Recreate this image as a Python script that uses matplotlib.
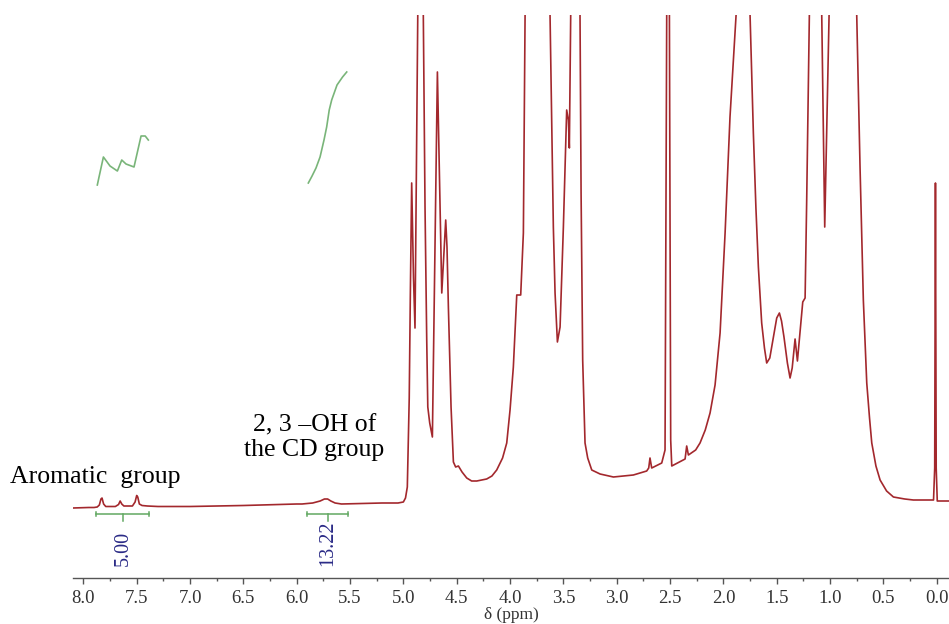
import matplotlib
matplotlib.use("Agg")
import matplotlib.pyplot as plt
from matplotlib.ticker import MultipleLocator

# ---- data (ppm, intensity a.u.; baseline ~0) ----
ppm = [8.097, 7.95, 7.90, 7.87, 7.85, 7.835, 7.825, 7.81, 7.79, 7.70, 7.67, 7.655, 7.64,
       7.62, 7.54, 7.515, 7.50, 7.49, 7.475, 7.45, 7.40, 7.30, 7.00, 6.50, 6.00, 5.95,
       5.85, 5.78, 5.74, 5.71, 5.68, 5.64, 5.58, 5.40, 5.20, 5.05, 5.00, 4.98, 4.963,
       4.945, 4.935, 4.922, 4.905, 4.891, 4.865, 4.839, 4.813, 4.797, 4.781, 4.771, 4.753,
       4.728, 4.703, 4.681, 4.662, 4.640, 4.603, 4.591, 4.578, 4.562, 4.553, 4.531, 4.510,
       4.484, 4.45, 4.406, 4.36, 4.312, 4.219, 4.17, 4.125, 4.07, 4.031, 4.000, 3.969,
       3.937, 3.900, 3.875, 3.859,
       3.75, 3.625, 3.594, 3.578, 3.556, 3.531, 3.500, 3.469, 3.453, 3.444, 3.431, 3.40,
       3.344, 3.334, 3.319, 3.297, 3.272, 3.234, 3.156, 3.031, 2.844, 2.719, 2.700, 2.688,
       2.672, 2.578, 2.547, 2.531, 2.518, 2.506, 2.494, 2.484, 2.359, 2.344, 2.328, 2.26,
       2.219, 2.17, 2.125, 2.078, 2.031, 1.984, 1.938, 1.881, 1.80, 1.750, 1.719, 1.695,
       1.672, 1.641, 1.615, 1.594, 1.565, 1.531, 1.500, 1.475, 1.455, 1.432, 1.400, 1.375,
       1.355, 1.328, 1.306, 1.256, 1.234, 1.219, 1.194, 1.14, 1.078,
       1.050, 1.009, 0.88, 0.750, 0.719, 0.688, 0.656, 0.630, 0.609, 0.570, 0.531, 0.470,
       0.406, 0.300, 0.219, 0.030, 0.019, 0.012, 0.005, -0.005, -0.115]
intensity = [0, 0.5, 0.5, 1, 3, 9, 10, 4, 1.5, 1.5, 3.5, 7, 4,
             2, 2, 6, 12.5, 11, 4, 2.5, 2, 1.5, 1.5, 2.5, 4, 4,
             5, 7, 9, 9, 7, 5, 4, 4.5, 5, 5, 6, 10, 21,
             110, 210, 325, 230, 180, 493, 800, 493, 301, 168, 101, 85,
             71, 268, 436, 335, 215, 288, 261, 201, 135, 101, 46, 41,
             42, 36, 30, 27, 27, 29, 32, 38, 50, 65, 98, 141,
             213, 213, 275, 493,
             1000, 493, 281, 215, 166, 181, 281, 398, 388, 360, 493, 900,
             493, 315, 148, 65, 50, 38, 34, 31, 33, 37, 40, 50,
             40, 45, 58, 493, 1200, 493, 68, 42, 49, 62, 53, 58,
             65, 78, 95, 123, 175, 275, 391, 493, 800, 493, 375, 300,
             241, 185, 160, 145, 150, 171, 190, 195, 187, 171, 145, 130,
             140, 169, 147, 206, 210, 308, 493, 900, 493,
             281, 493, 1200, 493, 341, 208, 125, 90, 65, 42, 28, 17,
             11, 9, 8, 8, 40, 325, 40, 7, 7]

# integral traces
int_arom_ppm = [7.869, 7.855, 7.812, 7.75, 7.681, 7.640, 7.60, 7.525, 7.459, 7.42, 7.391]
int_arom_val = [323, 330, 351, 342, 337, 348, 344, 341, 372, 372, 368]
int_cd_ppm = [5.891, 5.856, 5.819, 5.781, 5.744, 5.719, 5.695, 5.672, 5.622, 5.57, 5.531]
int_cd_val = [325, 332, 340, 351, 368, 381, 398, 408, 423, 431, 436]

integrals = [(7.88, 7.38, 7.63, "5.00"), (5.90, 5.52, 5.71, "13.22")]
xticks = [8.0, 7.5, 7.0, 6.5, 6.0, 5.5, 5.0, 4.5, 4.0, 3.5, 3.0, 2.5, 2.0, 1.5, 1.0, 0.5, 0.0]

# ---- figure ----
W, H = 949, 624
fig = plt.figure(figsize=(W / 100, H / 100), dpi=100)
ax_left, ax_bottom_px, ax_top_px = 73, 577.7, 15
ax = fig.add_axes([ax_left / W, 1 - ax_bottom_px / H, 1 - ax_left / W,
                   (ax_bottom_px - ax_top_px) / H])

red = "#a3282d"
green = "#62a862"
navy = "#2a2a86"
serif = ["Liberation Serif", "DejaVu Serif"]

ax.plot(ppm, intensity, color=red, lw=1.2, solid_joinstyle="round")
ax.plot(int_arom_ppm, int_arom_val, color=green, lw=1.2, alpha=0.85)
ax.plot(int_cd_ppm, int_cd_val, color=green, lw=1.2, alpha=0.85)

for a, b, c, lab in integrals:
    ax.plot([a, b], [-5.7, -5.7], color=green, lw=1.1)
    ax.plot([a, a], [-8, -3.5], color=green, lw=1.1)
    ax.plot([b, b], [-8, -3.5], color=green, lw=1.1)
    ax.plot([c, c], [-5.7, -12.7], color=green, lw=1.1)
    ax.text(c, -58, lab, rotation=90, ha="center", va="bottom", color=navy,
            fontsize=14.5, family=serif)

ax.set_xlim(8.097, -0.115)
ax.set_ylim(-69.7, 493)

for s in ["top", "left", "right"]:
    ax.spines[s].set_visible(False)
ax.spines["bottom"].set_color("#555555")
ax.spines["bottom"].set_linewidth(1.0)
ax.set_yticks([])
ax.set_xticks(xticks)
ax.set_xticklabels([f"{t:.1f}" for t in xticks])
ax.xaxis.set_minor_locator(MultipleLocator(0.25))
ax.tick_params(axis="x", which="major", direction="out", length=4.5, width=1,
               color="#555555", labelsize=13.5, labelcolor="#333333", pad=4)
ax.tick_params(axis="x", which="minor", direction="out", length=2.5, width=1,
               color="#555555")
for lbl in ax.get_xticklabels():
    lbl.set_family(serif)
ax.set_xlabel("δ (ppm)", fontsize=12.5, family=serif, color="#333333", labelpad=0)

ax.text(8.688, 31, "Aromatic  group", ha="left", va="center", fontsize=18.5,
        family=serif, color="black", clip_on=False)
ax.text(5.836, 70, "2, 3 –OH of\nthe CD group", ha="center", va="center",
        fontsize=18.5, family=serif, color="black", linespacing=1.15)

fig.savefig("out.png", dpi=100)
